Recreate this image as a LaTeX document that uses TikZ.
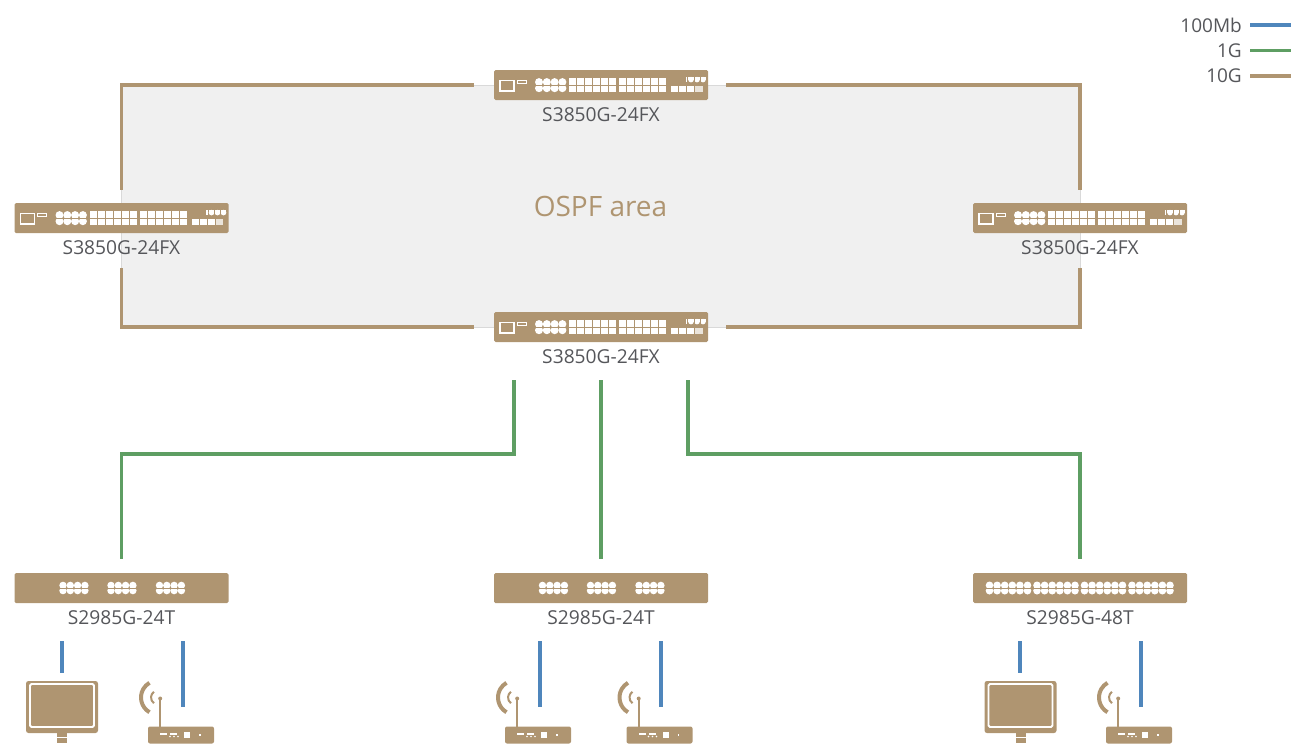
\documentclass[tikz,border=0pt]{standalone}
\usepackage{fontspec}
\setmainfont{Open Sans}
\usetikzlibrary{positioning}
\definecolor{tan}{HTML}{AF9571}
\definecolor{lan}{HTML}{4F86BC}
\definecolor{uplink}{HTML}{5E9E63}
\definecolor{ink}{HTML}{55565A}

\begin{document}
\begin{tikzpicture}[x=1pt,y=-1pt,
    swbox/.style={fill=tan,rounded corners=1.5pt,minimum width=214pt,minimum height=30pt,inner sep=0pt},
    swname/.style={text=ink,font=\fontsize{19.2}{22}\selectfont,inner sep=0pt,label distance=7.5pt},
    link/.style={line width=3.7pt},
    trunk/.style={link,draw=tan},
    gig/.style={link,draw=uplink},
    fast/.style={link,draw=lan},
    monitor/.style={fill=tan,rounded corners=2.5pt,minimum width=72pt,minimum height=52pt,inner sep=0pt},
    router/.style={fill=tan,rounded corners=2pt,minimum width=66pt,minimum height=17pt,inner sep=0pt},
    legend/.style={text=ink,font=\fontsize{19}{22}\selectfont,anchor=east,inner sep=0pt},
    fxports/.pic={
        \draw [white,line width=1.2pt] (-101,-4.5) rectangle (-87,6);
        \draw [white,line width=1pt] (-84,-4.5) rectangle (-75,-2);
        \foreach \x in {-62,-54.2,-46.4,-38.6} {
            \fill [white] (\x,-2.9) circle (4);
            \fill [white] (\x,3.2) circle (4);
        }
        \draw [tan,line width=.5pt] (-66,.2) -- +(32,0);
        \foreach \x in {-32,18} \foreach \i in {0,...,5} {
            \fill [white] (\x+\i*8,-6.7) rectangle +(7.4,6.2);
            \fill [white] (\x+\i*8,.8) rectangle +(7.4,6.2);
        }
        \foreach \i in {0,...,2} \fill [white] (70+\i*8,.8) rectangle +(7.4,6.2);
        \fill [white,opacity=.75] (94,.8) rectangle +(7.6,6.2);
        \fill [white] (84.5,-7.8) rectangle +(1.5,5);
        \foreach \x in {90,96,102} {
            \fill [white] (\x-2.8,-7.8) rectangle +(5.6,2.4);
            \fill [white] (\x,-5.4) circle (2.8);
        }
        \draw [tan,line width=.5pt] (93,-7.8) -- +(0,6) (99,-7.8) -- +(0,6);
    },
    tports/.pic={
        \foreach \x in {-58.5,-10.5,38} \foreach \i in {0,...,3} {
            \fill [white] (\x+\i*7.3,-2.6) circle (3.7);
            \fill [white] (\x+\i*7.3,2.6) circle (3.7);
        }
        \foreach \x in {-62.5,-14.5,34} \draw [tan,line width=.6pt] (\x,0) -- +(30,0);
    },
    bigports/.pic={
        \foreach \x in {-90.5,-43,4.5,52} {
            \foreach \i in {0,...,5} {
                \fill [white] (\x+\i*7.6,-2.7) circle (3.8);
                \fill [white] (\x+\i*7.6,2.7) circle (3.8);
            }
            \draw [tan,line width=.7pt] (\x-4,0) -- +(45,0);
        }
    },
    screen/.pic={
        \draw [white,line width=1.8pt,rounded corners=1.5pt] (-32,-23) rectangle (32,20);
        \fill [tan] (-5,26) rectangle (5,36);
        \fill [white] (-5,29.5) rectangle (5,31);
        \fill [tan] (-18,37) rectangle (18,40);
    },
    airbox/.pic={
        \fill [white] (-21,-2.5) rectangle +(7,2);
        \fill [white] (-11,-2.5) rectangle +(7,2);
        \foreach \x in {-11,-7,-3} \fill [white] (\x,1.5) circle (.9);
        \fill [white] (3,-3) rectangle +(6,6);
        \fill [white] (18,-1) rectangle +(1.5,1.5);
        % antenna
        \fill [tan] (-21.8,-8) rectangle (-19.8,-36);
        \fill [tan] (-20.8,-36.5) circle (2);
        % signal
        \draw [tan,line width=4pt] (-23,-37.5) ++(120:17) arc (120:240:17);
        \draw [tan,line width=2pt] (-23,-37.5) ++(125:7) arc (125:235:7);
    }]

\useasboundingbox (0,0) rectangle (1291,744);

% ospf area
\node [fill=black!6,draw=black!15,line width=.5pt,minimum width=959pt,minimum height=242pt,inner sep=0pt,
    text=tan,font=\fontsize{28}{32}\selectfont] (area) at (600.5,206) {OSPF area};

% switches
\node [swbox,label={[swname]below:S3850G-24FX}] (core1) at (601,85) {};
\node [swbox,label={[swname]below:S3850G-24FX}] (core2) at (121.5,218) {};
\node [swbox,label={[swname]below:S3850G-24FX}] (core3) at (1080,218) {};
\node [swbox,label={[swname]below:S3850G-24FX}] (core4) at (601,327) {};
\node [swbox,label={[swname]below:S2985G-24T}] (acc1) at (121.5,588) {};
\node [swbox,label={[swname]below:S2985G-24T}] (acc2) at (601,588) {};
\node [swbox,label={[swname]below:S2985G-48T}] (acc3) at (1080,588) {};

\foreach \n in {core1,core2,core3,core4} \pic at (\n) {fxports};
\pic at (acc1) {tports};
\pic at (acc2) {tports};
\pic at (acc3) {bigports};

% end hosts
\node [monitor] (pc1) at (62,707) {};
\node [monitor] (pc2) at (1020.5,707) {};
\node [router] (ap1) at (181,735) {};
\node [router] (ap2) at (538,735) {};
\node [router] (ap3) at (659.5,735) {};
\node [router] (ap4) at (1139,735) {};

\foreach \n in {pc1,pc2} \pic at (\n) {screen};
\foreach \n in {ap1,ap2,ap3,ap4} \pic at (\n) {airbox};

% ring
\draw [trunk,shorten <=20pt,shorten >=13pt] (core1.west) -| (core2.north);
\draw [trunk,shorten <=18pt,shorten >=13pt] (core1.east) -| (core3.north);
\draw [trunk,shorten <=20pt,shorten >=35pt] (core4.west) -| (core2.south);
\draw [trunk,shorten <=18pt,shorten >=35pt] (core4.east) -| (core3.south);

% uplinks
\coordinate (up1) at (514,380);
\coordinate (up2) at (601,380);
\coordinate (up3) at (688,380);
\coordinate (mid1) at (514,454);
\coordinate (mid3) at (688,454);
\draw [gig,shorten >=14pt] (up1) -- (mid1) -| (acc1.north);
\draw [gig,shorten >=14pt] (up2) -- (acc2.north);
\draw [gig,shorten >=14pt] (up3) -- (mid3) -| (acc3.north);

% lan
\coordinate (lan1) at (62,641);
\coordinate (lan2) at (183,641);
\coordinate (lan3) at (540,641);
\coordinate (lan4) at (661,641);
\coordinate (lan5) at (1020,641);
\coordinate (lan6) at (1141,641);
\draw [fast,shorten >=8pt] (lan1) -- (pc1.north);
\draw [fast,shorten >=8pt] (lan5) -- (lan5 |- pc2.north);
\draw [fast,shorten >=19pt] (lan2) -- (lan2 |- ap1.north);
\draw [fast,shorten >=19pt] (lan3) -- (lan3 |- ap2.north);
\draw [fast,shorten >=19pt] (lan4) -- (lan4 |- ap3.north);
\draw [fast,shorten >=19pt] (lan6) -- (lan6 |- ap4.north);

% legend
\node [legend] (leg1) at (1242,25) {100Mb};
\node [legend] (leg2) at (1242,50.5) {1G};
\node [legend] (leg3) at (1242,76) {10G};
\coordinate (end1) at (1291,25);
\coordinate (end2) at (1291,50.5);
\coordinate (end3) at (1291,76);
\draw [fast,shorten <=8pt] (leg1.east) -- (end1);
\draw [gig,shorten <=8pt] (leg2.east) -- (end2);
\draw [trunk,shorten <=8pt] (leg3.east) -- (end3);

\end{tikzpicture}
\end{document}
